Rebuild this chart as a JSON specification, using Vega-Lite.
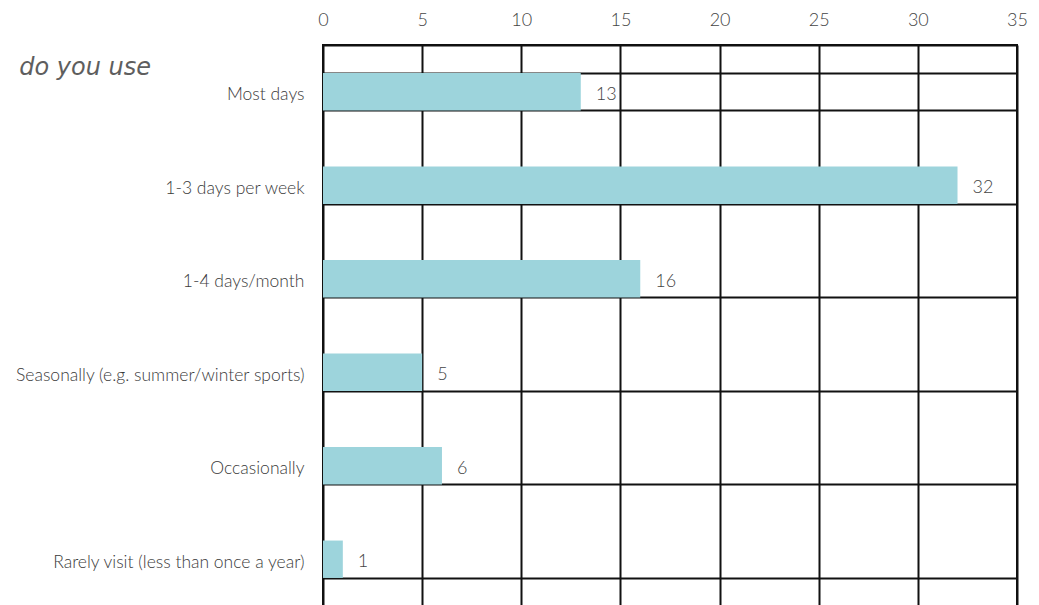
{
  "$schema": "https://vega.github.io/schema/vega-lite/v6.json",
  "autosize": "none",
  "width": 694,
  "height": 561,
  "padding": {"left": 323, "top": 45, "right": 22, "bottom": 0},
  "background": "white",
  "title": {
    "text": "do you use",
    "anchor": "start",
    "align": "right",
    "frame": "group",
    "dx": -172,
    "dy": 73,
    "font": "DejaVu Sans",
    "fontStyle": "italic",
    "fontWeight": "normal",
    "fontSize": 24,
    "color": "#5e5e5e"
  },
  "config": {
    "view": {"stroke": "#111111", "strokeWidth": 2},
    "font": "Lato"
  },
  "data": {
    "values": [
      {"category": "Most days", "count": 13},
      {"category": "1-3 days per week", "count": 32},
      {"category": "1-4 days/month", "count": 16},
      {"category": "Seasonally (e.g. summer/winter sports)", "count": 5},
      {"category": "Occasionally", "count": 6},
      {"category": "Rarely visit (less than once a year)", "count": 1}
    ]
  },
  "encoding": {
    "y": {
      "field": "category",
      "type": "nominal",
      "sort": null,
      "scale": {"paddingInner": 0.6, "paddingOuter": 0.3},
      "axis": {
        "title": null,
        "orient": "left",
        "ticks": false,
        "domain": false,
        "grid": true,
        "gridColor": "#111111",
        "gridWidth": 2,
        "gridOpacity": 1,
        "tickBand": "extent",
        "labelFont": "Lato",
        "labelFontSize": 17.5,
        "labelFontWeight": 300,
        "labelColor": "#3a3a3a",
        "labelPadding": 19,
        "labelOffset": 3,
        "labelLimit": 400
      }
    },
    "x": {
      "field": "count",
      "type": "quantitative",
      "scale": {"domain": [0, 35], "nice": false},
      "axis": {
        "title": null,
        "orient": "top",
        "values": [0, 5, 10, 15, 20, 25, 30, 35],
        "ticks": false,
        "domain": true,
        "domainColor": "#111111",
        "domainWidth": 2,
        "grid": true,
        "gridColor": "#111111",
        "gridWidth": 2,
        "gridOpacity": 1,
        "labelFont": "Lato",
        "labelFontSize": 18,
        "labelFontWeight": 300,
        "labelColor": "#444444",
        "labelPadding": 16,
        "labelFlush": false
      }
    }
  },
  "layer": [
    {"mark": {"type": "bar", "color": "#9dd4dc"}},
    {
      "mark": {"type": "text", "align": "left", "baseline": "middle", "dx": 15, "dy": 3, "fontSize": 18, "fontWeight": 300, "font": "Lato", "color": "#444444"},
      "encoding": {"text": {"field": "count", "type": "quantitative"}}
    }
  ]
}
